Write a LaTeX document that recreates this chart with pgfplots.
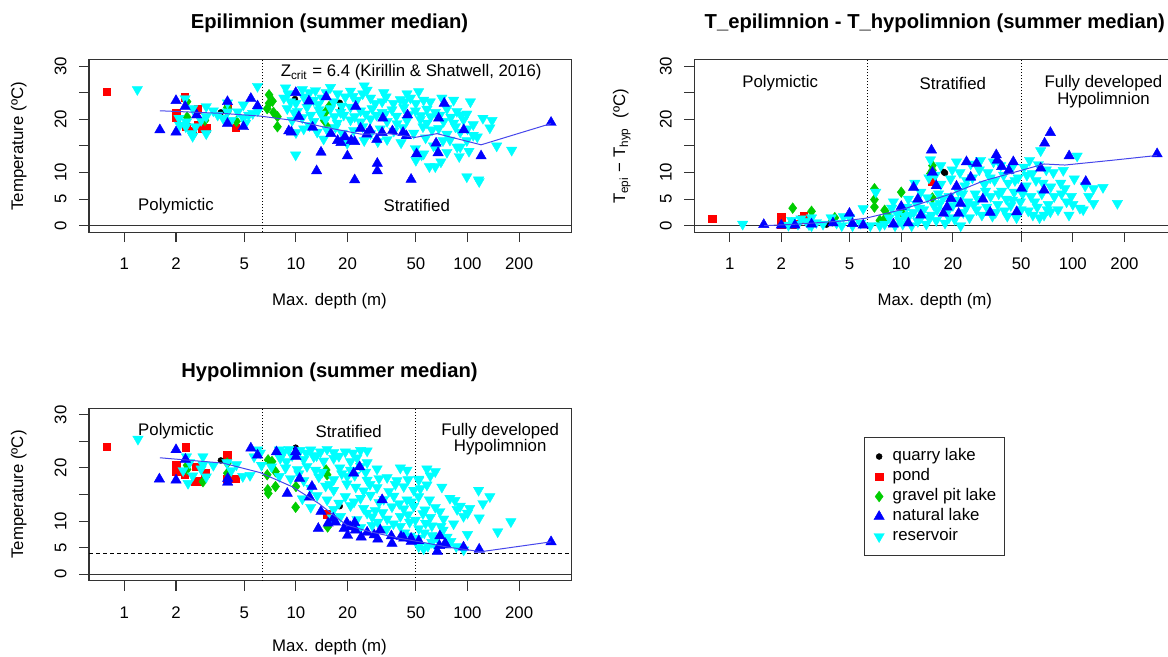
\documentclass[border=0pt]{standalone}
\usepackage{pgfplots}
\pgfplotsset{compat=1.18}
\usepackage{fontspec}
\setmainfont{Liberation Sans}
\definecolor{green3}{RGB}{0,205,0}
\definecolor{rcyan}{RGB}{0,255,255}
\definecolor{rblue}{RGB}{0,0,255}
\definecolor{rred}{RGB}{255,0,0}
\definecolor{loess}{RGB}{70,70,235}
\newcommand{\lbl}{\fontsize{8.4}{10}\selectfont}
\newcommand{\ttl}{\fontsize{10.1}{12}\selectfont\bfseries}

\pgfplotsset{
  rpanel/.style={
    scale only axis, width=241.35pt, height=86.2pt,
    ymin=-1.2, ymax=31.2,
    xtick={1,2,5,10,20,50,100,200}, xticklabels={1,2,5,10,20,50,100,200},
    ytick={0,5,10,15,20,25,30}, yticklabels={0,5,10,,20,,30},
    xminorticks=false, yminorticks=false,
    xtick pos=left, ytick pos=left,
    tick align=outside, major tick length=5pt,
    axis line style={black!80, line width=0.55pt},
    every tick/.style={black!80, line width=0.55pt},
    tick label style={font=\lbl},
    xticklabel style={anchor=base, yshift=-13.8pt},
    yticklabel style={xshift=-6.3pt, rotate=90, anchor=base},
    clip mode=individual,
  },
  sQuarry/.style={only marks, mark=*, mark size=1.5pt, color=black, mark options={line width=0.2pt}},
  sPond/.style={only marks, mark=square*, mark size=1.9pt, color=rred, mark options={line width=0.2pt}},
  sGravel/.style={only marks, mark=diamond*, mark size=2.7pt, color=green3, mark options={line width=0.2pt}},
  sNatural/.style={only marks, mark=triangle*, mark size=3pt, color=rblue, mark options={line width=0.2pt}},
  sReservoir/.style={only marks, mark=triangle*, mark size=3pt, color=rcyan, mark options={rotate=180, line width=0.2pt}},
  sLoess/.style={no marks, color=loess, line width=0.5pt},
}

\begin{document}
\begin{tikzpicture}
\path[use as bounding box] (0,0) rectangle (584pt,328.5pt);

% ---------- Epilimnion ----------
\begin{axis}[xmode=log, xmin=0.622, xmax=405, rpanel, at={(44.5pt,212.45pt)}, anchor=south west]
\draw[black!80, line width=0.5pt] (axis cs:0.622,0) -- (axis cs:405,0);
\draw[black, line width=0.5pt, dash pattern=on 0.5pt off 1pt] (axis cs:6.4,-1.2) -- (axis cs:6.4,31.2);
\addplot[sPond] coordinates {
 (0.79,25.2) (2.0,21.2) (2.0,20.4) (2.25,24.1) (2.67,21.9) (2.67,18.9) (2.5,17.8)
 (2.3,18.6) (2.85,18.3) (3.0,18.3) (4.0,22.5) (4.46,18.4)};
\addplot[sGravel] coordinates {
 (2.32,20.4) (2.32,23.3) (3.98,21.4) (3.98,22.2) (2.95,19.8) (6.97,24.6) (6.97,23.0)
 (7.3,23.4) (6.8,22.0) (7.8,20.5) (7.8,18.6) (15.0,21.5) (15.6,22.4) (14.6,19.8)
 (15.3,18.5) (4.5,19.6) (7.4,21.3)};
\addplot[sQuarry] coordinates {(3.65,21.3) (9.87,23.8) (18.0,23.1) (18.3,21.9)};
\addplot[sReservoir] coordinates {
 (1.19,25.6) (2.08,20.2) (2.26,23.9) (2.28,18.6) (2.47,17.3) (2.5,22.0) (2.3,19.5)
 (2.6,18.6) (3.0,22.4) (3.0,20.5) (3.0,17.3) (2.8,19.8) (3.5,20.8) (3.76,20.2)
 (3.99,23.1) (3.99,21.4) (4.2,19.8) (4.58,21.4) (4.94,22.7) (4.94,20.2) (5.1,19.3)
 (5.6,21.1) (5.97,26.2) (5.3,20.8) (6.0,21.6) (2.1,18.9) (3.3,21.6) (2.5,16.8)
 (8.7,25.9) (10.9,25.6) (13.0,25.4) (15.9,26.0) (20.8,25.3) (26.0,25.5) (32.5,25.0)
 (44.4,24.8) (51.9,25.2) (25.0,26.3)
 (8.5,24.0) (9.3,23.3) (11.1,24.2) (12.7,23.6) (14.2,24.0) (16.6,23.3) (19.4,24.2)
 (22.7,23.6) (27.2,24.0) (31.8,23.3) (40.6,23.7) (46.5,24.0) (55.5,23.6) (60.7,23.3)
 (70.9,24.0) (83.0,23.6) (104,23.3)
 (8.9,22.0) (10.2,21.5) (11.6,22.3) (13.6,21.8) (15.9,22.0) (18.2,21.3) (20.8,22.3)
 (23.8,21.6) (27.8,22.0) (31.8,21.3) (36.3,21.8) (42.5,22.2) (49.7,21.6) (58.0,21.9)
 (64.9,21.3) (75.9,22.0) (86.7,21.5) (99.1,21.0)
 (9.5,19.8) (10.9,20.3) (12.7,19.6) (14.9,20.0) (17.4,19.3) (20.8,19.9) (23.8,19.5)
 (27.2,20.1) (34.0,19.6) (38.8,19.2) (44.4,19.8) (53.1,20.0) (58.0,19.3) (72.6,19.6)
 (83.0,19.3) (94.8,19.9) (108,19.0)
 (11.1,18.2) (13.3,17.6) (15.2,18.0) (18.6,17.4) (21.7,17.9) (27.2,17.3) (37.2,17.8)
 (48.6,17.4) (62.1,18.0) (75.9,17.2) (90.7,17.6) (108,17.0) (135,18.4) (10.0,17.5)
 (9.96,13.3) (19.9,15.5) (49.7,14.5) (55.5,13.5) (63.4,15.0) (75.9,13.8) (90.7,14.8)
 (99.1,16.0) (148,15.0) (181,14.2) (123,20.2) (139,19.8) (114,16.7) (14.5,16.3)
 (25.0,16.0) (34.0,16.2) (41.0,15.6) (66.0,14.8) (79.0,16.1) (87.0,14.8) (89.5,13.0)
 (30.0,15.8)
 (64.9,11.1) (99.1,9.2) (116,8.6) (60.0,11.1) (54.0,13.3) (50.0,12.3) (117,8.3) (70.0,12.0)
 (9.0,24.8) (10.0,23.0) (12.0,25.0) (13.5,22.8) (15.0,25.0) (17.5,24.8) (18.5,22.5)
 (21.5,24.3) (24.5,24.8) (29.0,23.0) (33.5,24.2) (37.0,23.0) (43.0,23.3) (50.0,23.0)
 (9.8,21.2) (12.2,20.8) (14.0,21.0) (16.8,20.5) (19.0,20.8) (22.0,20.5) (25.5,21.0)
 (29.5,20.8) (33.0,21.0) (38.5,20.6) (45.5,20.9) (53.5,20.7) (61.0,20.5) (69.0,20.8)
 (80.0,20.4) (92.0,20.8) (12.0,18.8) (17.0,18.5) (24.5,18.6) (31.0,18.2) (42.0,18.5)
 (55.0,18.6) (68.0,18.3) (85.0,18.6) (100,18.2) (57.0,16.5) (72.0,16.0) (102,14.0)};
\addplot[sNatural] coordinates {
 (1.61,18.0) (2.0,23.5) (2.0,17.6) (2.26,22.4) (2.64,20.8) (3.99,19.2) (3.99,23.3)
 (4.94,18.6) (5.46,23.9) (5.97,22.5) (9.98,25.0) (9.08,17.8) (9.4,17.6) (11.9,23.4)
 (10.4,20.5) (14.0,13.8) (13.2,10.3) (15.0,24.2) (16.0,17.3) (18.3,15.6) (19.3,16.7)
 (19.95,13.1) (22.0,8.6) (22.0,15.8) (22.3,22.4) (23.8,18.3) (25.9,17.2) (29.8,11.7)
 (29.8,10.3) (29.6,16.2) (32.1,20.2) (31.8,17.5) (42.1,17.5) (44.0,16.9) (44.7,20.8)
 (46.9,8.7) (50.5,13.5) (67.4,13.7) (67.9,20.2) (65.6,15.5) (73.2,23.0) (95.1,18.0)
 (120,13.1) (307,19.4) (17.5,16.0) (21.0,16.0) (12.5,18.5) (36.5,17.8) (27.0,18.0)};
\addplot[sLoess] coordinates {
 (1.61,21.6) (3.76,21.1) (6.2,20.6) (10.1,19.7) (14.3,18.6) (24,17.2) (34.9,17.3)
 (49.5,16.6) (66.5,17.3) (120,15.2) (307,19.2)};
\node[font=\lbl, anchor=base west] at (axis cs:7.42,28.1) {Z\textsubscript{crit} = 6.4 (Kirillin \& Shatwell, 2016)};
\node[font=\lbl, anchor=base] at (axis cs:2.0,2.95) {Polymictic};
\node[font=\lbl, anchor=base] at (axis cs:50.6,2.6) {Stratified};
\end{axis}

% ---------- Difference ----------
\begin{axis}[xmode=log, xmin=0.622, xmax=405, rpanel, at={(347.15pt,212.45pt)}, anchor=south west]
\draw[black!80, line width=0.5pt] (axis cs:0.622,0) -- (axis cs:405,0);
\draw[black, line width=0.5pt, dash pattern=on 0.5pt off 1pt] (axis cs:6.4,-1.2) -- (axis cs:6.4,31.2);
\draw[black, line width=0.5pt, dash pattern=on 0.5pt off 1pt] (axis cs:50,-1.2) -- (axis cs:50,31.2);
\addplot[sPond] coordinates {
 (0.79,1.3) (2.0,1.6) (2.0,0.9) (2.0,0.2) (2.7,1.9) (2.65,1.2) (2.36,0.3) (15.2,8.3)};
\addplot[sGravel] coordinates {
 (2.33,3.3) (3.0,2.7) (3.96,0.9) (4.1,1.5) (6.98,6.95) (6.98,4.9) (6.98,3.5) (8.0,2.9)
 (8.0,1.3) (8.3,2.0) (10.0,6.3) (10.0,2.6) (15.2,11.3) (15.2,10.4) (15.2,5.2) (2.3,0.5)
 (7.5,1.0) (14.8,9.8)};
\addplot[sQuarry] coordinates {(3.67,0.2) (17.7,10.1) (18.0,9.9)};
\addplot[sReservoir] coordinates {
 (1.19,0.3) (2.2,0.1) (2.3,1.0) (2.5,0.3) (2.6,1.3) (2.8,0.8) (3.0,0.0) (3.0,1.5)
 (3.2,0.6) (3.9,1.5) (4.2,0.5) (4.6,1.7) (5.0,1.5) (5.2,0.0) (4.5,0.0) (5.8,0.5)
 (6.0,3.2) (6.6,0.0) (2.9,0.2) (3.5,0.3)
 (7.1,6.3) (7.5,0.0) (8.0,0.3) (8.5,1.5) (8.8,3.3) (9.2,0.0) (9.0,4.5) (9.5,2.2)
 (10.2,0.3) (10.5,1.8) (10.8,3.5) (11.0,5.0) (11.5,0.0) (11.8,2.5) (12.3,4.0) (12.5,0.8)
 (13.0,1.5) (13.0,6.3) (12.0,8.0) (13.5,3.0)
 (14.0,0.3) (14.2,5.3) (14.5,9.0) (14.8,12.4) (15.0,2.0) (15.5,3.8) (16.0,1.0) (16.5,6.0)
 (17.0,11.3) (17.0,7.8) (16.8,4.2) (15.8,9.5)
 (18.0,0.5) (18.5,2.5) (19.0,5.5) (19.4,8.8) (20.0,3.8) (20.5,1.2) (21.0,12.0) (21.5,6.5)
 (22.0,10.0) (22.2,0.0) (19.8,10.5)
 (23.0,2.5) (23.5,7.5) (24.5,4.5) (25.4,11.6) (25.0,1.5) (26.0,9.0) (27.0,6.0) (27.5,3.0)
 (28.5,10.5) (29.0,12.3) (28.0,5.0) (24.0,8.5)
 (30.5,7.8) (31.5,3.5) (32.0,10.0) (33.2,5.5) (34.0,1.8) (35.0,8.5) (36.5,4.0) (38.0,11.3)
 (38.5,6.5) (40.0,2.8) (39.5,9.5) (34.5,12.0)
 (41.0,5.0) (42.0,8.0) (43.5,3.8) (44.0,10.8) (45.5,6.3) (47.0,1.5) (48.0,9.0) (49.5,4.5)
 (52.0,11.0) (53.5,7.5) (55.0,2.8) (56.0,12.3) (50.0,3.0)
 (57.0,5.5) (58.0,9.8) (61.0,8.5) (62.0,3.5) (64.0,1.5) (65.0,14.1) (66.0,6.0) (68.0,2.0)
 (70.0,10.5) (72.0,4.0) (74.0,2.6) (74.4,7.3) (77.0,10.0) (78.0,5.5)
 (85.0,8.0) (88.0,10.4) (92.0,4.5) (95.0,2.0) (102,8.8) (106,13.1) (110,3.3) (115,3.0)
 (118,7.5) (132,7.0) (132,4.2) (150,7.2) (182,4.2) (86.0,6.0) (98.0,5.5)
 (9.8,1.0) (11.2,2.0) (12.8,3.3) (14.5,1.5) (16.2,3.0) (17.5,5.2) (19.0,1.5) (20.8,4.8)
 (22.8,6.0) (24.0,3.5) (26.5,4.0) (29.5,2.0) (31.0,6.5) (33.0,9.0) (35.5,2.5) (37.0,6.0)
 (41.5,1.8) (44.5,4.8) (46.0,8.5) (51.0,6.0) (54.0,9.5) (58.5,2.0) (60.0,4.5) (63.0,11.5)
 (67.0,8.0) (71.0,3.0) (82.0,3.0) (90.0,7.0) (100,4.0) (124,5.5)};
\addplot[sNatural] coordinates {
 (1.58,0.2) (2.0,0.1) (2.4,0.1) (3.0,0.3) (4.0,0.5) (4.99,2.3) (5.2,0.4) (6.0,0.1)
 (9.0,0.3) (10.0,3.6) (11.8,7.2) (15.0,14.2) (15.2,10.0) (19.5,5.1) (21.0,7.4) (27.5,11.7)
 (29.9,5.0) (35.8,13.3) (38.5,11.1) (45.0,12.0) (47.1,2.6) (50.2,7.0) (68.5,15.5)
 (74.0,17.5) (68.0,6.7) (95.2,13.1) (119,8.3) (310,13.5) (17.6,2.3) (21.6,2.3) (22.2,4.2)
 (65.0,10.8) (42.4,10.4) (25.4,9.1) (18.5,3.5) (13.0,2.0) (12.5,5.0) (33.0,2.5)
 (24.0,12.0) (16.0,7.5) (36.3,12.3) (11.0,0.5)};
\addplot[sLoess] coordinates {
 (1.59,0) (2.5,0.3) (4.6,0.9) (6.2,1.4) (10,3.0) (15,4.8) (20,6.1) (30,8.4) (50,10.4)
 (68,11.6) (90,11.4) (170,12.3) (310,13.2)};
\node[font=\lbl, anchor=base] at (axis cs:1.97,25.9) {Polymictic};
\node[font=\lbl, anchor=base] at (axis cs:20,25.6) {Stratified};
\node[font=\lbl, anchor=base] at (axis cs:151,25.9) {Fully developed};
\node[font=\lbl, anchor=base] at (axis cs:151,22.8) {Hypolimnion};
\end{axis}

% ---------- Hypolimnion ----------
\begin{axis}[xmode=log, xmin=0.622, xmax=405, rpanel, at={(44.5pt,38.15pt)}, anchor=south west,
  legend style={at={(1.6056,0.8335)}, anchor=north west, draw=black!80, line width=0.55pt,
    fill=white, font=\lbl, inner xsep=3pt, inner ysep=4.5pt, row sep=0pt, column sep=1.5pt,
    nodes={inner sep=1pt, text height=6.2pt, text depth=1.8pt, anchor=west}},
  legend cell align=left,
  legend image code/.code={\path (0pt,0pt) (8pt,0pt); \draw[#1] plot coordinates {(4pt,0pt)};},
]
\addlegendimage{mark=*, mark size=1.5pt, black, mark options={line width=0.2pt}}
\addlegendentry{quarry lake}
\addlegendimage{mark=square*, mark size=1.9pt, rred, mark options={line width=0.2pt}}
\addlegendentry{pond}
\addlegendimage{mark=diamond*, mark size=2.7pt, green3, mark options={line width=0.2pt}}
\addlegendentry{gravel pit lake}
\addlegendimage{mark=triangle*, mark size=3pt, rblue, mark options={line width=0.2pt}}
\addlegendentry{natural lake}
\addlegendimage{mark=triangle*, mark size=3pt, rcyan, mark options={rotate=180, line width=0.2pt}}
\addlegendentry{reservoir}
\draw[black!80, line width=0.5pt] (axis cs:0.622,0) -- (axis cs:405,0);
\draw[black, line width=0.5pt, dash pattern=on 2pt off 1.5pt] (axis cs:0.622,4) -- (axis cs:405,4);
\draw[black, line width=0.5pt, dash pattern=on 0.5pt off 1pt] (axis cs:6.4,-1.2) -- (axis cs:6.4,31.2);
\draw[black, line width=0.5pt, dash pattern=on 0.5pt off 1pt] (axis cs:50,-1.2) -- (axis cs:50,31.2);
\addplot[sPond, forget plot] coordinates {
 (0.79,24.0) (2.28,23.9) (2.0,20.5) (2.0,19.3) (2.25,18.8) (2.6,20.2) (2.57,17.5)
 (2.68,17.5) (2.95,19.0) (3.96,22.4) (3.96,18.0) (4.46,18.0) (15.1,11.3)};
\addplot[sGravel, forget plot] coordinates {
 (2.32,19.7) (2.32,20.5) (2.87,17.4) (3.98,20.9) (3.98,19.0) (6.88,21.5) (7.25,21.2)
 (7.6,19.3) (6.8,18.7) (6.85,15.9) (6.9,15.2) (7.6,16.5) (9.96,12.6) (15.0,19.6)
 (15.2,18.7) (15.3,8.9) (10.0,16.5)};
\addplot[sQuarry, forget plot] coordinates {(3.65,21.4) (9.96,23.8) (18.0,12.8)};
\addplot[sReservoir, forget plot] coordinates {
 (1.2,25.4) (2.3,22.1) (2.4,21.0) (2.87,22.1) (2.87,20.6) (2.35,17.1) (2.5,18.5)
 (2.8,19.8) (3.96,21.0) (4.5,20.6) (4.9,18.4) (5.4,18.6) (5.97,23.4) (5.7,22.1)
 (3.3,20.5) (4.2,19.5) (6.3,20.5) (6.2,22.8) (2.2,19.5) (3.0,18.3)
 (8.0,23.4) (8.5,23.0) (9.1,23.5) (10.6,23.3) (11.5,22.8) (12.2,23.4) (13.9,23.0)
 (15.2,23.5) (16.6,22.9) (19.4,23.0) (23.8,23.3) (26.0,23.2)
 (8.1,21.8) (8.8,21.2) (11.1,21.6) (12.7,22.1) (14.5,21.3) (16.6,21.8) (20.8,21.2)
 (22.7,21.9) (26.0,21.0)
 (7.2,20.2) (8.7,20.0) (10.2,19.7) (11.6,20.3) (13.0,19.6) (18.0,20.0) (20.8,19.6)
 (23.8,20.3) (29.7,19.8) (40.6,20.0) (44.4,19.6) (58.0,19.8) (64.9,19.3)
 (8.0,18.4) (9.3,18.0) (11.1,17.6) (13.6,18.3) (16.6,17.8) (19.9,18.4) (26.0,17.7)
 (34.0,18.2) (38.8,17.6) (51.9,17.9) (60.7,18.5) (52.0,17.7)
 (12.2,16.2) (14.9,16.6) (16.6,15.8) (22.3,16.4) (24.8,15.7) (29.7,16.3) (34.8,15.6)
 (42.5,16.5) (48.6,15.8) (53.1,16.1) (70.9,16.4) (116,15.8)
 (10.9,14.2) (13.3,14.8) (15.2,14.0) (19.4,14.6) (23.8,14.3) (27.2,14.9) (32.5,14.1)
 (37.2,14.7) (44.4,14.0) (51.9,14.6) (79.0,14.3) (84.5,13.9) (135,14.6)
 (12.2,12.6) (16.6,12.2) (20.8,12.9) (24.8,12.4) (29.0,12.0) (36.3,12.7) (42.5,12.3)
 (48.6,12.8) (56.5,12.1) (64.9,12.6) (87.0,12.2) (90.7,12.8) (123,13.3) (103,12.4)
 (16.3,10.6) (18.2,10.9) (22.7,10.3) (27.8,10.8) (34.0,10.4) (40.6,10.9) (49.7,10.2)
 (60.7,10.7) (72.6,10.4) (94.8,10.9) (117,10.6) (179,9.9)
 (23.8,8.8) (27.8,9.2) (33.8,8.5) (40.6,9.0) (52.0,8.6) (62.0,9.1) (150,8.0)
 (46.5,7.2) (51.9,6.8) (62.0,7.3) (66.5,6.9) (76.0,7.0)
 (51.9,5.2) (55.5,4.8) (58.8,5.3) (66.0,5.0) (86.0,5.2) (95.0,4.6)
 (9.5,22.3) (13.2,22.3) (17.8,22.2) (21.5,22.8) (10.4,18.9) (14.2,19.2) (18.5,18.9)
 (22.0,18.6) (25.5,19.2) (30.5,18.0) (15.8,16.9) (19.8,17.0) (27.0,16.9) (38.0,16.9)
 (45.0,17.8) (58.0,16.8) (17.8,13.4) (21.8,13.6) (30.5,13.5) (40.0,13.3) (47.0,13.6)
 (60.0,14.0) (26.0,11.5) (32.0,11.6) (45.0,11.2) (55.0,11.4) (69.0,11.8) (100,11.5)
 (30.0,9.8) (37.0,9.5) (46.0,9.8) (57.0,9.6) (70.0,9.0) (83.0,9.5) (43.0,7.8) (56.0,7.8)
 (72.0,8.3) (62.0,6.0) (80.0,6.2) (100,7.5)};
\addplot[sNatural, forget plot] coordinates {
 (1.6,17.9) (2.0,17.7) (2.0,23.4) (2.27,21.6) (4.0,18.0) (4.0,17.3) (5.46,23.7)
 (5.97,22.4) (7.7,23.0) (10.0,22.1) (9.96,23.0) (8.9,15.2) (10.5,18.0) (12.4,16.5)
 (13.5,8.6) (15.4,9.6) (21.7,19.0) (23.5,20.2) (19.8,9.7) (20.8,8.9) (19.1,8.6)
 (22.2,8.3) (22.0,9.7) (26.0,7.9) (28.6,7.4) (31.8,14.0) (31.0,8.3) (36.3,5.8) (36.0,7.2)
 (42.5,6.8) (47.0,6.2) (69.0,7.2) (68.6,5.4) (66.7,4.3) (74.0,5.8) (94.8,5.1) (117,4.7)
 (307,6.1) (41.0,7.1) (46.9,6.75) (75.0,5.5) (24.0,7.0) (17.0,9.8) (14.0,11.8)
 (12.0,14.5) (30.0,6.6) (20.0,7.3) (16.5,10.5) (52.0,6.3)};
\addplot[sLoess, forget plot] coordinates {
 (1.61,21.9) (3.76,20.9) (6.2,19.1) (9.6,16.4) (13.6,13.3) (19.7,9.25) (27,8.0)
 (40.5,6.75) (57,5.9) (77,5.1) (120,4.25) (307,6.1)};
\node[font=\lbl, anchor=base] at (axis cs:2.0,26.0) {Polymictic};
\node[font=\lbl, anchor=base] at (axis cs:20.3,25.7) {Stratified};
\node[font=\lbl, anchor=base] at (axis cs:155,26.0) {Fully developed};
\node[font=\lbl, anchor=base] at (axis cs:155,23.0) {Hypolimnion};
\end{axis}

% titles and axis labels
\node[font=\ttl, anchor=base] at (164.75pt,314pt) {Epilimnion (summer median)};
\node[font=\ttl, anchor=base] at (467.4pt,314pt) {T\_epilimnion - T\_hypolimnion (summer median)};
\node[font=\ttl, anchor=base] at (164.75pt,139.65pt) {Hypolimnion (summer median)};
\node[font=\lbl, anchor=base] at (164.75pt,175.5pt) {Max. depth (m)};
\node[font=\lbl, anchor=base] at (467.4pt,175.5pt) {Max. depth (m)};
\node[font=\lbl, anchor=base] at (164.75pt,2.5pt) {Max. depth (m)};
\node[font=\lbl, anchor=base, rotate=90] at (11.6pt,255.35pt) {Temperature (ºC)};
\node[font=\lbl, anchor=base, rotate=90] at (312.5pt,255.35pt) {T\textsubscript{epi} − T\textsubscript{hyp}\ \ (ºC)};
\node[font=\lbl, anchor=base, rotate=90] at (11.6pt,81.25pt) {Temperature (ºC)};
\end{tikzpicture}
\end{document}
